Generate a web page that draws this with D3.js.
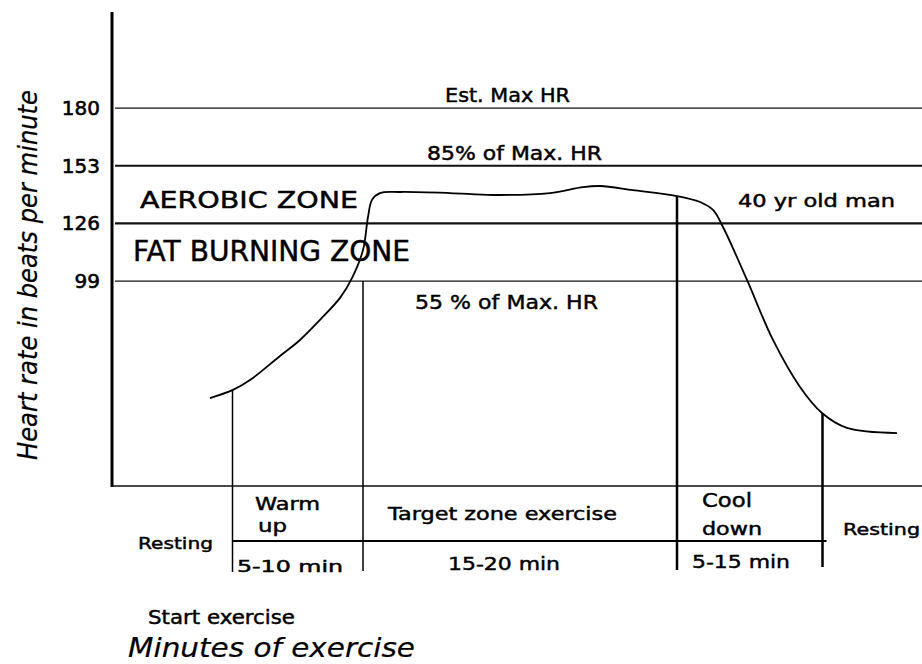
<!DOCTYPE html>
<html><head><meta charset="utf-8">
<script src="https://cdn.jsdelivr.net/npm/d3@7"></script>
<style>
body{margin:0;background:#fff}
svg{display:block}
text{font-family:"DejaVu Sans",sans-serif;fill:#000;stroke:#000;stroke-width:0.45px}
</style>
</head><body>
<svg id="c" width="922" height="664"></svg>
<script>
// ---- data ----
const timeMin   = [9.8,12.1,13.8,16.8,18.8,20.8,22.8,24.0,25.1,25.6,26.0,26.8,28.8,33.8,38.1,43.8,47.1,48.8,52.1,56.5,58.8,60.1,61.1,63.5,66.1,68.8,71.0,73.5,78.5];
const heartRate = [44.2,48.0,52.6,63.9,71.4,80.8,91.1,100.4,113.5,129,137,140.2,140.7,140.2,139.3,140.2,143.0,143.5,141.6,138.8,136.0,132.3,124.3,99.5,71.4,49.4,37.2,30.2,27.8];
const zoneValues = [180,153,126,99];
const tickLabels = ["180","153","126","99"];
const phaseStart = [12.05,25.1,56.5,71.05];
const phaseTop   = [48,99,138.8,37.2];

const W = 922, H = 664;
const svg = d3.select("#c");
const x = d3.scaleLinear().domain([0,81]).range([112,922]);
const y = d3.scaleLinear().domain([3,225]).range([486,12]);

function label(px, py, str, size, len, extra){
  const t = svg.append("text").attr("x",px).attr("y",py).text(str)
    .attr("font-size",size);
  if(len){ t.attr("textLength",len).attr("lengthAdjust","spacingAndGlyphs"); }
  if(extra){ for(const k in extra) t.style(k, extra[k]); }
  return t;
}

// zone lines
const zoneWidths = [1.3,2.2,2.2,1.3];
svg.selectAll("line.zone").data(zoneValues).join("line")
  .attr("class","zone")
  .attr("x1",115).attr("x2",W)
  .attr("y1",d=>y(d)).attr("y2",d=>y(d))
  .attr("stroke","#111").attr("stroke-width",(d,i)=>zoneWidths[i]);

// y axis ticks
const yAxis = d3.axisLeft(y).tickValues(zoneValues).tickSize(0).tickPadding(12)
  .tickFormat((d,i)=>tickLabels[i]);
const gy = svg.append("g").attr("transform",`translate(${x(0)},0)`).call(yAxis);
gy.select(".domain").remove();
gy.selectAll("text").attr("font-family","DejaVu Sans").attr("font-size",20)
  .style("fill","#000").style("stroke","#000").style("stroke-width","0.6px");

// axes lines
svg.append("line").attr("x1",x(0)).attr("x2",x(0)).attr("y1",12).attr("y2",y.range()[0]+1)
  .attr("stroke","#000").attr("stroke-width",3);
svg.append("line").attr("x1",x(0)).attr("x2",W).attr("y1",y.range()[0]).attr("y2",y.range()[0])
  .attr("stroke","#111").attr("stroke-width",1.5);

// phase vertical lines
const phaseWidths = [1.5,1.5,2.5,2.5];
const phaseBottoms = [572,571,570,567];
svg.selectAll("line.phase").data(phaseStart).join("line")
  .attr("class","phase")
  .attr("x1",d=>x(d)).attr("x2",d=>x(d))
  .attr("y1",(d,i)=>y(phaseTop[i])).attr("y2",(d,i)=>phaseBottoms[i])
  .attr("stroke","#000").attr("stroke-width",(d,i)=>phaseWidths[i]);

// table horizontal line
svg.append("line").attr("x1",x(phaseStart[0])).attr("x2",x(phaseStart[3])+4)
  .attr("y1",541).attr("y2",541).attr("stroke","#000").attr("stroke-width",2.2);

// heart rate curve
const line = d3.line().x((d,i)=>x(timeMin[i])).y(d=>y(d)).curve(d3.curveCatmullRom.alpha(0.5));
svg.append("path").attr("d",line(heartRate)).attr("fill","none")
  .attr("stroke","#000").attr("stroke-width",1.8);

// zone labels
label(445,102,"Est. Max HR",19,125);
label(427,160,"85% of Max. HR",19,175);
label(140,208,"AEROBIC ZONE",23,218);
label(133,261,"FAT BURNING ZONE",28,277);
label(415,309,"55 % of Max. HR",20,183);
label(738,207,"40 yr old man",17,157);

// table labels
label(138,549,"Resting",16,75);
label(255,510,"Warm",17,65);
label(258,532,"up",17,29);
label(388,520,"Target zone exercise",17,229);
label(237,572,"5-10 min",16,106);
label(448,570,"15-20 min",18,112);
label(702,507,"Cool",19,50);
label(702,535,"down",17,60);
label(843,535,"Resting",16,77);
label(692,568,"5-15 min",18,98);

// bottom labels
label(148,624,"Start exercise",19,147);
label(128,657,"Minutes of exercise",27,287,{"font-style":"italic","stroke-width":"0.2px"});

// y axis title
svg.append("text").attr("transform","translate(37,275) rotate(-90)")
  .attr("text-anchor","middle").attr("font-size",26).style("font-style","italic")
  .style("stroke-width","0.2px")
  .attr("textLength",370).attr("lengthAdjust","spacingAndGlyphs")
  .text("Heart rate in beats per minute");
</script>
</body></html>
